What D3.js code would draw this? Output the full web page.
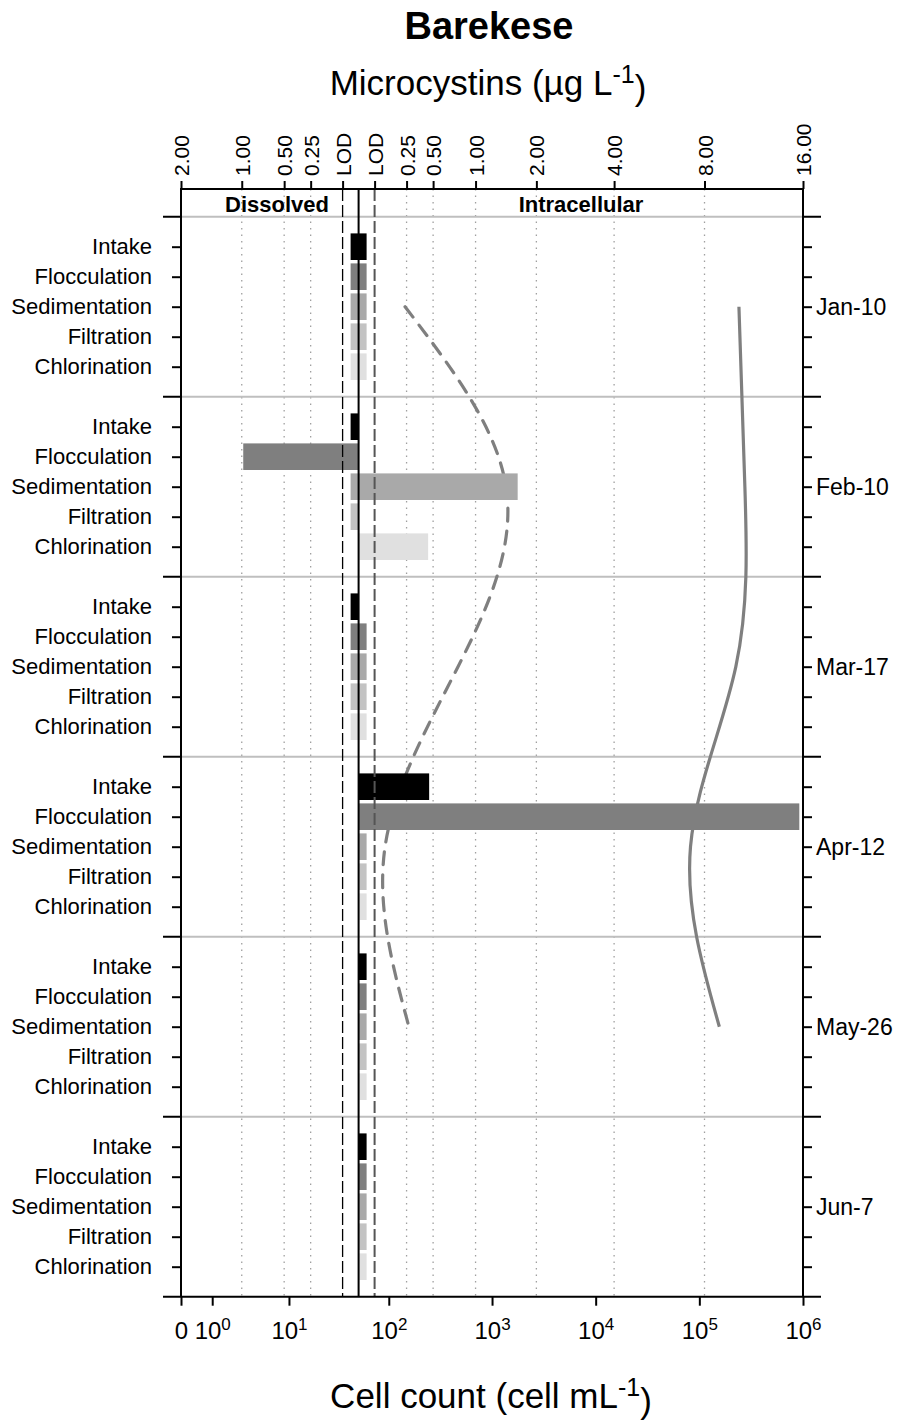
<!DOCTYPE html>
<html>
<head>
<meta charset="utf-8">
<script src="https://cdn.jsdelivr.net/npm/d3@7"></script>
<style>
  body { margin: 0; background: #fff; }
  text { font-family: "Liberation Sans", Arial, sans-serif; fill: #000; }
</style>
</head>
<body>
<div id="chart"></div>
<script>
// ---- data ----
const stages = ['Intake', 'Flocculation', 'Sedimentation', 'Filtration', 'Chlorination'];
const dates = ['Jan-10', 'Feb-10', 'Mar-17', 'Apr-12', 'May-26', 'Jun-7'];
const stageColors = ['#000000', '#7f7f7f', '#a9a9a9', '#c3c3c3', '#e0e0e0'];

// microcystins (ug/L); 'LOD' = below detection, null = nothing drawn
const dissolved = [
  ['LOD', 'LOD', 'LOD', 'LOD', 'LOD'],
  ['LOD', 0.98, 'LOD', 'LOD', null],
  ['LOD', 'LOD', 'LOD', 'LOD', 'LOD'],
  [null, null, null, null, null],
  [null, null, null, null, null],
  [null, null, null, null, null]
];
const intracellular = [
  ['LOD', 'LOD', 'LOD', 'LOD', 'LOD'],
  [null, null, 1.65, null, 0.45],
  [null, 'LOD', 'LOD', 'LOD', 'LOD'],
  [0.46, 15.6, 'LOD', 'LOD', 'LOD'],
  ['LOD', 'LOD', 'LOD', 'LOD', 'LOD'],
  ['LOD', 'LOD', 'LOD', 'LOD', 'LOD']
];

// cell counts (cells/mL) at intake, Jan-10 .. May-26
const cellsDashed = [144, 1364, 469, 92, 157];
const cellsSolid = [241000, 275000, 225000, 82200, 156000];

const dissolvedTicks = [2, 1, 0.5, 0.25, 0];
const intraTicks = [0, 0.25, 0.5, 1, 2, 4, 8, 16];
const cellTicks = [0, 1, 10, 100, 1000, 10000, 100000, 1000000];

// ---- layout ----
const W = 902, H = 1421;
const x0 = 181, x1 = 803, xc = 358.6, lodGap = 16;
const yTop = 189, yFirst = 216.7, yBottom = 1296.7;
const font = '"Liberation Sans", Arial, sans-serif';

const cellScale = d3.scaleSymlog().constant(1).domain([0, 1e6]).range([x0, x1]);
const disScale = d3.scaleSymlog().constant(1.1).domain([0, 2]).range([xc - lodGap, x0]);
const intraScale = d3.scaleSymlog().constant(1.1).domain([0, 16]).range([xc + lodGap, x1]);
const rowY = d3.scaleLinear().domain([0, 36]).range([yFirst, yBottom]);

const svg = d3.select('#chart').append('svg')
  .attr('width', W).attr('height', H)
  .style('font-family', font);

// titles
svg.append('text').attr('x', 489).attr('y', 39).attr('text-anchor', 'middle')
  .style('font-size', '38px').style('font-weight', 'bold').text('Barekese');
const sub = svg.append('text').attr('x', 488).attr('y', 95).attr('text-anchor', 'middle')
  .style('font-size', '35px');
sub.append('tspan').text('Microcystins (\u00b5g L');
sub.append('tspan').attr('dy', '-0.5em').style('font-size', '25px').text('-1');
sub.append('tspan').attr('dy', '0.5em').text(')');

const xt = svg.append('text').attr('x', 491).attr('y', 1408).attr('text-anchor', 'middle')
  .style('font-size', '35px');
xt.append('tspan').text('Cell count (cell mL');
xt.append('tspan').attr('dy', '-0.5em').style('font-size', '25px').text('-1');
xt.append('tspan').attr('dy', '0.5em').text(')');

// dotted grid at microcystin ticks
const gridX = dissolvedTicks.filter(v => v > 0 && v < 2).map(v => disScale(v))
  .concat(intraTicks.filter(v => v > 0 && v < 16).map(v => intraScale(v)));
svg.append('g').selectAll('line').data(gridX).join('line')
  .attr('x1', d => d).attr('x2', d => d).attr('y1', yTop).attr('y2', yBottom)
  .attr('stroke', '#a0a0a0').attr('stroke-width', 1.3).attr('stroke-dasharray', '1.5,5');

// group separators
const seps = d3.range(0, 36, 6);
svg.append('g').selectAll('line').data(seps).join('line')
  .attr('x1', x0).attr('x2', x1).attr('y1', d => rowY(d)).attr('y2', d => rowY(d))
  .attr('stroke', '#bfbfbf').attr('stroke-width', 2);
svg.append('g').selectAll('path').data(seps).join('path')
  .attr('d', d => `M${x0 - 18},${rowY(d)}H${x0}M${x1},${rowY(d)}H${x1 + 18}`)
  .attr('stroke', '#000').attr('stroke-width', 2);

// cell count curves (Sedimentation row of each sampling date)
const curve = d3.line()
  .x(d => cellScale(d[0]))
  .y(d => rowY(d[1]))
  .curve(d3.curveNatural);
svg.append('path')
  .attr('d', curve(cellsDashed.map((v, i) => [v, i * 6 + 3])))
  .attr('fill', 'none').attr('stroke', '#7f7f7f').attr('stroke-width', 3.2)
  .attr('stroke-linecap', 'round').attr('stroke-dasharray', '13,10');
svg.append('path')
  .attr('d', curve(cellsSolid.map((v, i) => [v, i * 6 + 3])))
  .attr('fill', 'none').attr('stroke', '#7f7f7f').attr('stroke-width', 3.2);

// bars
const bars = [];
dates.forEach((dt, g) => {
  stages.forEach((st, i) => {
    const slot = g * 6 + i + 1;
    const dv = dissolved[g][i], iv = intracellular[g][i];
    if (dv !== null) {
      const xe = dv === 'LOD' ? (xc + disScale(0)) / 2 : disScale(dv);
      bars.push({ slot, xa: xe, xb: xc, c: stageColors[i] });
    }
    if (iv !== null) {
      const xe = iv === 'LOD' ? (xc + intraScale(0)) / 2 : intraScale(iv);
      bars.push({ slot, xa: xc, xb: xe, c: stageColors[i] });
    }
  });
});
svg.append('g').selectAll('rect').data(bars).join('rect')
  .attr('x', d => d.xa).attr('width', d => d.xb - d.xa)
  .attr('y', d => rowY(d.slot) - 13.3).attr('height', 26.6)
  .attr('fill', d => d.c);

// LOD lines and centre line
svg.append('line').attr('x1', disScale(0)).attr('x2', disScale(0))
  .attr('y1', yTop).attr('y2', yBottom)
  .attr('stroke', '#000').attr('stroke-width', 1.3).attr('stroke-dasharray', '12,4');
svg.append('line').attr('x1', intraScale(0)).attr('x2', intraScale(0))
  .attr('y1', yTop).attr('y2', yBottom)
  .attr('stroke', '#555').attr('stroke-width', 2).attr('stroke-dasharray', '12,4');
svg.append('line').attr('x1', xc).attr('x2', xc).attr('y1', yTop).attr('y2', yBottom)
  .attr('stroke', '#000').attr('stroke-width', 2);

// frame
svg.append('path')
  .attr('d', `M${x0},${yBottom}V${yTop}H${x1}V${yBottom}M${x0 - 18},${yBottom}H${x1 + 18}`)
  .attr('fill', 'none').attr('stroke', '#000').attr('stroke-width', 2);

// header labels
svg.append('text').attr('x', 277).attr('y', 212).attr('text-anchor', 'middle')
  .style('font-size', '22px').style('font-weight', 'bold').text('Dissolved');
svg.append('text').attr('x', 581).attr('y', 212).attr('text-anchor', 'middle')
  .style('font-size', '22px').style('font-weight', 'bold').text('Intracellular');

// top axes (microcystins)
const mcFormat = v => v === 0 ? 'LOD' : d3.format('.2f')(v);
function styleTop(g) {
  g.select('.domain').remove();
  g.selectAll('.tick line').attr('stroke', '#000').attr('stroke-width', 2);
  g.selectAll('.tick text')
    .attr('transform', 'rotate(-90)')
    .attr('x', 13).attr('y', 0).attr('dy', '0.36em')
    .style('text-anchor', 'start').style('font-size', '21px')
    .style('font-family', font);
}
svg.append('g').attr('transform', `translate(0,${yTop})`)
  .call(d3.axisTop(disScale).tickValues(dissolvedTicks).tickFormat(mcFormat).tickSize(8))
  .call(styleTop);
svg.append('g').attr('transform', `translate(0,${yTop})`)
  .call(d3.axisTop(intraScale).tickValues(intraTicks).tickFormat(mcFormat).tickSize(8))
  .call(styleTop);

// bottom axis (cell count)
const bx = svg.append('g').attr('transform', `translate(0,${yBottom})`)
  .call(d3.axisBottom(cellScale).tickValues(cellTicks).tickFormat('').tickSize(9));
bx.select('.domain').remove();
bx.selectAll('.tick line').attr('stroke', '#000').attr('stroke-width', 2);
bx.selectAll('.tick text').each(function(d) {
  const t = d3.select(this).attr('y', 42).attr('dy', null)
    .style('font-size', '24px').style('font-family', font);
  t.text(null);
  if (d === 0) { t.text('0'); return; }
  t.append('tspan').text('10');
  t.append('tspan').attr('dy', '-0.5em').style('font-size', '17px').text(Math.round(Math.log10(d)));
});

// row axes
const slots = d3.range(36).filter(s => s % 6 !== 0);
const ly = svg.append('g').attr('transform', `translate(${x0},0)`)
  .call(d3.axisLeft(rowY).tickValues(slots).tickSize(9).tickPadding(20)
    .tickFormat(s => stages[(s % 6) - 1]));
ly.select('.domain').remove();
ly.selectAll('.tick line').attr('stroke', '#000').attr('stroke-width', 2);
ly.selectAll('.tick text').style('font-size', '22px').style('font-family', font);

const ry = svg.append('g').attr('transform', `translate(${x1},0)`)
  .call(d3.axisRight(rowY).tickValues(slots).tickSize(9).tickPadding(4)
    .tickFormat(s => s % 6 === 3 ? dates[Math.floor(s / 6)] : ''));
ry.select('.domain').remove();
ry.selectAll('.tick line').attr('stroke', '#000').attr('stroke-width', 2);
ry.selectAll('.tick text').style('font-size', '23px').style('font-family', font);
</script>
</body>
</html>
